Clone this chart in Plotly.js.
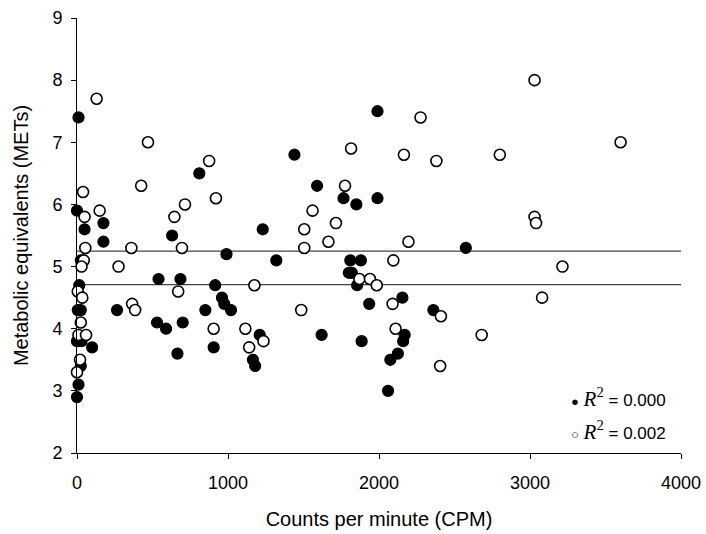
<!DOCTYPE html>
<html>
<head>
<meta charset="utf-8">
<script src="https://cdn.plot.ly/plotly-3.0.1.min.js"></script>
<style>
  html, body { margin: 0; padding: 0; background: #fff; }
  #chart { width: 706px; height: 534px; }
</style>
</head>
<body>
<div id="chart"></div>
<script>
// Group 1 (filled circles): counts per minute and METs
const cpmFilled = [10, 810, 0, 175, 50, 630, 1230, 175, 990, 25,
  540, 685, 15, 915, 960, 975, 1020, 5, 25, 265,
  850, 530, 590, 700, 0, 30, 100, 905, 665, 1165,
  1180, 25, 10, 0, 1990, 1440, 1590, 1765, 1850, 1990,
  1320, 1810, 1880, 1800, 1820, 1855, 2155, 1935, 2360, 1210,
  1620, 1885, 2170, 2160, 2125, 2075, 2060, 2575];
const metsFilled = [7.4, 6.5, 5.9, 5.7, 5.6, 5.5, 5.6, 5.4, 5.2, 5.1,
  4.8, 4.8, 4.7, 4.7, 4.5, 4.4, 4.3, 4.3, 4.3, 4.3,
  4.3, 4.1, 4.0, 4.1, 3.8, 3.8, 3.7, 3.7, 3.6, 3.5,
  3.4, 3.4, 3.1, 2.9, 7.5, 6.8, 6.3, 6.1, 6.0, 6.1,
  5.1, 5.1, 5.1, 4.9, 4.9, 4.7, 4.5, 4.4, 4.3, 3.9,
  3.9, 3.8, 3.9, 3.8, 3.6, 3.5, 3.0, 5.3];

// Group 2 (open circles)
const cpmOpen = [130, 470, 875, 40, 425, 920, 715, 150, 50, 645,
  55, 360, 695, 45, 30, 275, 1175, 5, 670, 35,
  365, 385, 25, 905, 1115, 10, 60, 1140, 20, 0,
  2275, 1815, 2165, 2380, 1775, 1560, 1505, 1715, 1665, 2195,
  1505, 2095, 1870, 1940, 1985, 2090, 1485, 2410, 1235, 2110,
  2405, 3030, 3600, 2800, 3030, 3040, 3215, 3080, 2680];
const metsOpen = [7.7, 7.0, 6.7, 6.2, 6.3, 6.1, 6.0, 5.9, 5.8, 5.8,
  5.3, 5.3, 5.3, 5.1, 5.0, 5.0, 4.7, 4.6, 4.6, 4.5,
  4.4, 4.3, 4.1, 4.0, 4.0, 3.9, 3.9, 3.7, 3.5, 3.3,
  7.4, 6.9, 6.8, 6.7, 6.3, 5.9, 5.6, 5.7, 5.4, 5.4,
  5.3, 5.1, 4.8, 4.8, 4.7, 4.4, 4.3, 4.2, 3.8, 4.0,
  3.4, 8.0, 7.0, 6.8, 5.8, 5.7, 5.0, 4.5, 3.9];

// Fitted regression lines (flat) and their R² values
const fitX = [0, 4000];
const fitFilled = [4.71, 4.71];
const fitOpen = [5.25, 5.25];
const r2Filled = '0.000';
const r2Open = '0.002';

const xTicks = [0, 1000, 2000, 3000, 4000];
const yTicks = [2, 3, 4, 5, 6, 7, 8, 9];

const FONT = '"Liberation Sans", Arial, sans-serif';

const traces = [
  { x: fitX, y: fitFilled, mode: 'lines', line: { color: '#444', width: 1.3 }, hoverinfo: 'skip' },
  { x: fitX, y: fitOpen, mode: 'lines', line: { color: '#444', width: 1.3 }, hoverinfo: 'skip' },
  { x: cpmFilled, y: metsFilled, mode: 'markers', cliponaxis: false,
    marker: { size: 11, color: '#000', line: { color: '#000', width: 1.2 } } },
  { x: cpmOpen, y: metsOpen, mode: 'markers', cliponaxis: false,
    marker: { size: 11, color: '#fff', line: { color: '#000', width: 1.6 } } }
];

// "R²" set in an italic serif, the value in the sans font
const r2Label = v => '<span style="font-family:\'Liberation Serif\',\'Times New Roman\',serif;font-size:21px"><i>R</i><sup>2</sup></span> = ' + v;

const layout = {
  width: 706, height: 534,
  margin: { l: 77, r: 25, t: 18, b: 81 },
  paper_bgcolor: '#fff', plot_bgcolor: '#fff',
  showlegend: false,
  font: { family: FONT, size: 18, color: '#000' },
  xaxis: {
    range: [0, 4000], tickvals: xTicks, ticktext: xTicks.map(String),
    showgrid: false, zeroline: false, showline: true, linecolor: '#000', linewidth: 1,
    ticks: 'outside', ticklen: 5, tickcolor: '#000', tickfont: { size: 18 },
    ticklabelstandoff: 8,
    title: { text: 'Counts per minute (CPM)', font: { size: 20 }, standoff: 20 }
  },
  yaxis: {
    range: [2, 9], tickvals: yTicks, ticktext: yTicks.map(String),
    showgrid: false, zeroline: false, showline: true, linecolor: '#000', linewidth: 1,
    ticks: 'outside', ticklen: 5, tickcolor: '#000', tickfont: { size: 18 },
    ticklabelstandoff: 5,
    title: { text: 'Metabolic equivalents (METs)', font: { size: 20 }, standoff: 18 }
  },
  annotations: [
    { x: 3255, y: 2.9, xref: 'x', yref: 'y', xanchor: 'left', yanchor: 'middle', showarrow: false,
      text: '<span style="font-size:13px">●</span> ' + r2Label(r2Filled), font: { size: 17 } },
    { x: 3255, y: 2.37, xref: 'x', yref: 'y', xanchor: 'left', yanchor: 'middle', showarrow: false,
      text: '<span style="font-size:13px">○</span> ' + r2Label(r2Open), font: { size: 17 } }
  ]
};

Plotly.newPlot('chart', traces, layout, { displayModeBar: false, staticPlot: true });
</script>
</body>
</html>
